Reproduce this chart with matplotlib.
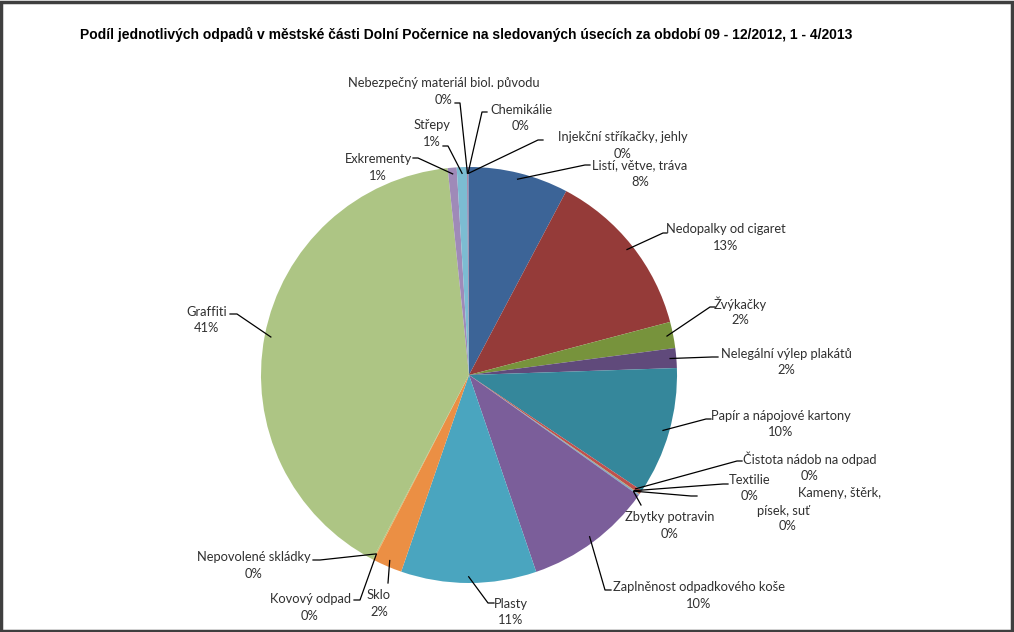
import numpy as np
import matplotlib
matplotlib.use('Agg')
import matplotlib.pyplot as plt
from matplotlib.patches import Rectangle

# ===============================================================================
# data (percent shares)

categories = ['Listí, větve, tráva', 'Nedopalky od cigaret', 'Žvýkačky',
              'Nelegální výlep plakátů', 'Papír a nápojové kartony',
              'Čistota nádob na odpad', 'Textilie', 'Kameny, štěrk, písek, suť',
              'Zbytky potravin', 'Zaplněnost odpadkového koše', 'Plasty', 'Sklo',
              'Kovový odpad', 'Nepovolené skládky', 'Graffiti', 'Exkrementy',
              'Střepy', 'Nebezpečný materiál biol. původu', 'Chemikálie',
              'Injekční stříkačky, jehly']
values = [7.8, 13.25, 2.05, 1.55, 10.0,
          0.3, 0.05, 0.05,
          0.05, 10.0, 10.6, 2.3,
          0.05, 0.05, 41.0, 0.7,
          0.8, 0.05, 0.05,
          0.05]

colors = ['#3C6497', '#953B39', '#77933C', '#604A7B', '#35879B',
          '#C0504D', '#9BBB59', '#8064A2', '#4BACC6', '#7B5E9A',
          '#4AA5BF', '#EB8F44', '#F79646', '#9BBB59', '#ADC584',
          '#9F8AB8', '#7CBCD2', '#8064A2', '#C0504D', '#4F81BD']

title = 'Podíl jednotlivých odpadů v městské části Dolní Počernice na sledovaných úsecích za období 09 - 12/2012, 1 - 4/2013'

# ===============================================================================
# layout in pixels: centre of first label line, leader elbow, end of short tick

W, H = 1014, 632
cx, cy, R = 469, 375, 208
line_h = 16.5

label_xy = [(640, 165), (726, 229), (740, 304), (786, 354), (781, 416),
            (810, 459), (750, 480), (783, 511), (670, 517), (699, 587),
            (511, 604), (379, 595), (310, 599), (254, 557), (207, 312),
            (378, 159), (432, 125), (444, 83), (521, 110), (623, 137)]
elbow_xy = [(585, 165), (663, 233), (710, 307), (712, 357), (706, 419),
            (737, 461), (723, 484), (691, 496), (641, 505), (605, 590),
            (488, 603), (388, 583), (360, 600), (320, 560), (237, 314),
            (418, 158), (448, 146), (460, 103), (482, 112), (538, 140)]
tick_x = [590, 667, 715, 718, 711, 742, 728, 697, 641, 611,
          494, 388, 354, 313, 230, 413, 443, 455, 487, 543]


def py(y):
    return H - y


fig = plt.figure(figsize=(W / 100, H / 100), dpi=100)
ax = fig.add_axes([0, 0, 1, 1])

wedges, _ = ax.pie(values, colors=colors, startangle=90, counterclock=False,
                   center=(cx, py(cy)), radius=R, wedgeprops=dict(linewidth=0))
ax.set_xlim(0, W)
ax.set_ylim(0, H)
ax.set_aspect('equal')
ax.axis('off')

total = sum(values)
lab_kw = dict(ha='center', va='center', fontsize=9.3, family=['Lato', 'DejaVu Sans'],
              color='#303030')
for i, w in enumerate(wedges):
    mid = np.radians((w.theta1 + w.theta2) / 2)
    sx = cx + 0.97 * R * np.cos(mid)
    sy = py(cy) + 0.97 * R * np.sin(mid)
    ex, ey = elbow_xy[i]
    ax.plot([sx, ex, tick_x[i]], [sy, py(ey), py(ey)], color='black', lw=0.9, zorder=3)

    pct = '%d%%' % round(values[i] / total * 100)
    tx, ty = label_xy[i]
    if i == 7:
        # wrapped by Excel into three ragged lines
        ax.text(839, py(ty - 18), 'Kameny, štěrk,', **lab_kw)
        ax.text(tx, py(ty), 'písek, suť', **lab_kw)
        ax.text(tx + 5, py(ty + 15), pct, **lab_kw)
    else:
        ax.text(tx, py(ty), categories[i], **lab_kw)
        ax.text(tx, py(ty + line_h), pct, **lab_kw)

t = ax.text(466, py(34), title, ha='center', va='center', fontsize=10, fontweight='bold',
            family=['Liberation Sans', 'DejaVu Sans'], color='black')
fig.canvas.draw()
tw = t.get_window_extent(fig.canvas.get_renderer()).width
t.set_fontsize(10 * 771 / tw)

ax.add_patch(Rectangle((1, 1), W - 3, H - 3, fill=False, lw=2.5, ec='#3F3F3F',
                       clip_on=False))

fig.savefig('out.png', dpi=100)
